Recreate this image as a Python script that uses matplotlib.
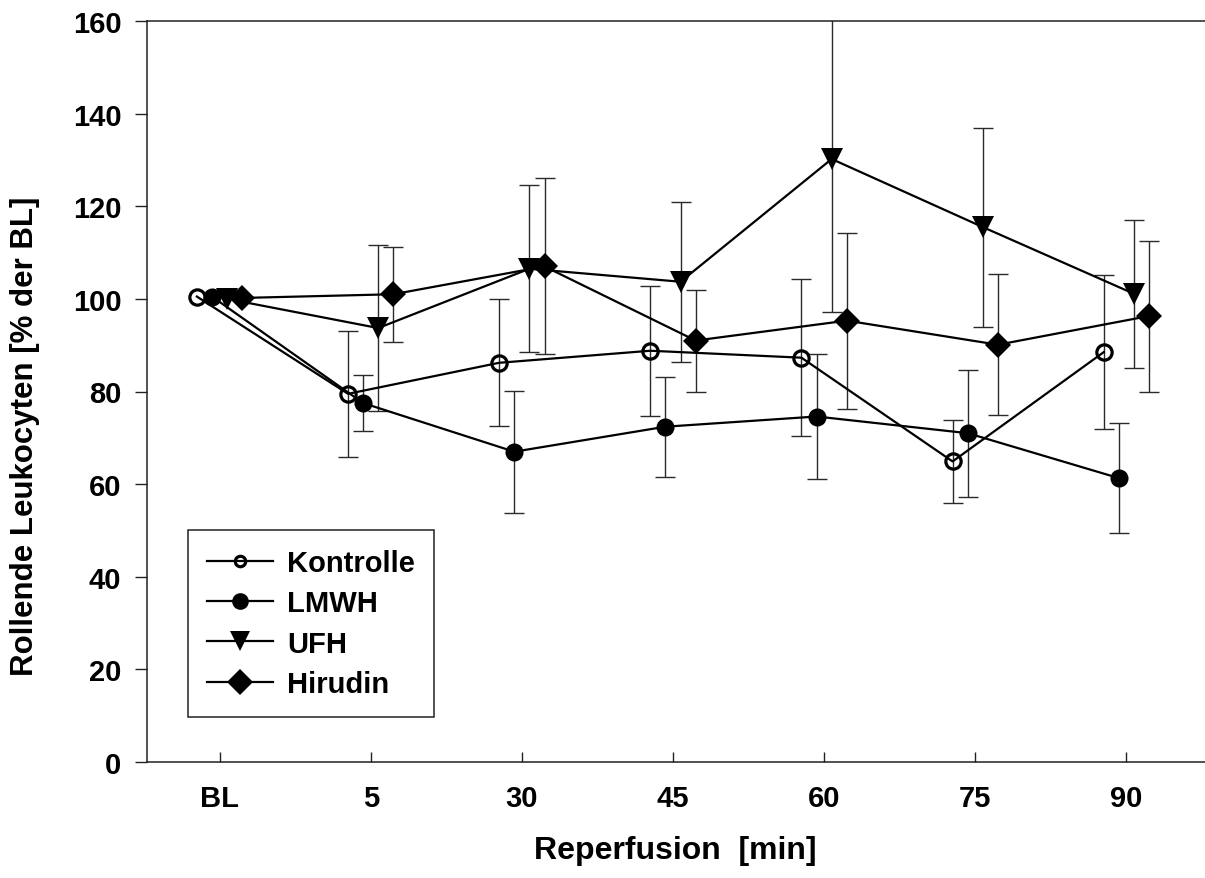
"""
Rolling leukocytes during reperfusion, four treatment groups.
"""

import numpy as np
import matplotlib
matplotlib.use('Agg')
import matplotlib.pyplot as plt
from matplotlib.lines import Line2D

plt.rcParams['font.family'] = ['Liberation Sans', 'DejaVu Sans']
plt.rcParams['font.weight'] = 'bold'

# data
times = ['BL', '5', '30', '45', '60', '75', '90']
groups = ['Kontrolle', 'LMWH', 'UFH', 'Hirudin']

kontrolle = [100.5, 79.5, 86.2, 88.8, 87.3, 64.9, 88.5]
kontrolle_err = [0, 13.6, 13.7, 14.0, 17.0, 9.0, 16.6]
lmwh = [100.5, 77.5, 67.0, 72.4, 74.6, 71.0, 61.3]
lmwh_err = [0, 6.0, 13.2, 10.8, 13.4, 13.7, 11.8]
ufh = [100.0, 93.7, 106.5, 103.7, 130.2, 115.5, 101.1]
ufh_err = [0, 18.0, 18.0, 17.3, 33.0, 21.5, 16.0]
hirudin = [100.2, 101.0, 107.0, 91.0, 95.3, 90.1, 96.3]
hirudin_err = [0, 10.3, 19.0, 11.0, 19.0, 15.2, 16.3]

means = [kontrolle, lmwh, ufh, hirudin]
errs = [kontrolle_err, lmwh_err, ufh_err, hirudin_err]

# marker styles per group
styles = [
    dict(marker='o', ms=11, mfc='none', mec='black', mew=2.3),
    dict(marker='o', ms=13, mfc='black', mec='black', mew=0),
    dict(marker='v', ms=16, mfc='black', mec='black', mew=0),
    dict(marker='D', ms=13.5, mfc='black', mec='black', mew=0),
]
offsets = [-0.15, -0.05, 0.05, 0.15]

fig = plt.figure(figsize=(12.05, 8.79), dpi=100)
ax = fig.add_axes([147 / 1205, 116 / 879, 1058 / 1205, 741 / 879])

x = np.arange(len(times))
for vals, err, st, off in zip(means, errs, styles, offsets):
    xs = x + off
    ax.errorbar(xs[1:], vals[1:], yerr=err[1:], fmt='none', ecolor='#2a2a2a',
                elinewidth=1.0, capsize=7, capthick=1.0, zorder=2)
    ax.plot(xs, vals, color='black', lw=1.6, zorder=3, **st)

ax.set_xlim(-0.48, 6.52)
ax.set_ylim(0, 160)
ax.set_xticks(x)
ax.set_xticklabels(times)
ax.set_yticks(np.arange(0, 161, 20))

for s in ['left', 'bottom', 'top']:
    ax.spines[s].set_linewidth(1.1)
    ax.spines[s].set_color('#222222')
ax.spines['right'].set_visible(False)

ax.tick_params(axis='y', direction='out', length=8.5, width=1.0, pad=10,
               labelsize=21, color='#222222')
ax.tick_params(axis='x', direction='in', length=7, width=1.0, pad=16,
               labelsize=21, color='#222222')

ax.set_ylabel('Rollende Leukocyten [% der BL]', fontsize=22.5, fontweight='bold')
ax.set_xlabel('Reperfusion  [min]', fontsize=23, fontweight='bold')
ax.yaxis.set_label_coords(-0.101, 0.441)
ax.xaxis.set_label_coords(0.499, -0.098)

# legend with its own marker sizes
leg_sizes = [7.5, 12, 14, 13]
handles = []
for st, ms in zip(styles, leg_sizes):
    st2 = dict(st)
    st2['ms'] = ms
    handles.append(Line2D([], [], color='black', lw=1.6, **st2))
leg = ax.legend(handles, groups, loc='upper left',
                bbox_to_anchor=(0.0388, 0.3130), borderaxespad=0,
                fancybox=False, framealpha=1, edgecolor='#222222',
                prop=dict(size=21, weight='bold'), handlelength=2.25,
                handletextpad=0.5, labelspacing=0.42, borderpad=0.65)
leg.get_frame().set_linewidth(1.1)

plt.savefig('out.png', dpi=100)
